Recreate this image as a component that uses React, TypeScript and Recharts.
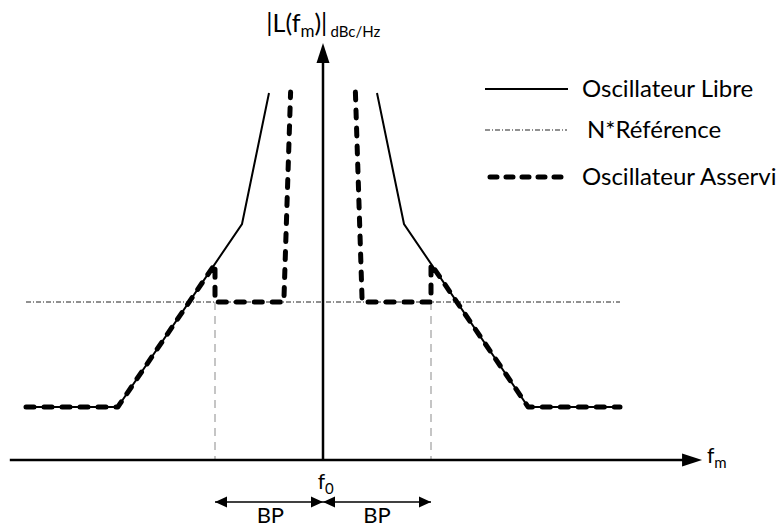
import { ComposedChart, Line, Scatter, XAxis, YAxis } from 'recharts';

// x in offset units from f0 (BP = 4), y in arbitrary noise-level units above the f axis
const freeLeft = [
  { x: -11, y: 5.3 },
  { x: -7.6, y: 5.3 },
  { x: -3, y: 23.6 },
  { x: -2, y: 36.7 },
];
const freeRight = [
  { x: 2, y: 36.7 },
  { x: 3, y: 23.6 },
  { x: 7.6, y: 5.3 },
  { x: 11, y: 5.3 },
];
const lockedLeft = [
  { x: -11, y: 5.3 },
  { x: -7.6, y: 5.3 },
  { x: -4, y: 19.6 },
  { x: -4, y: 15.8 },
  { x: -1.45, y: 15.8 },
  { x: -1.2, y: 36.8 },
];
const lockedRight = [
  { x: 1.2, y: 36.8 },
  { x: 1.45, y: 15.8 },
  { x: 4, y: 15.8 },
  { x: 4, y: 19.6 },
  { x: 7.6, y: 5.3 },
  { x: 11, y: 5.3 },
];
const reference = [
  { x: -11, y: 15.8 },
  { x: 11, y: 15.8 },
];
const bpEdgeLeft = [
  { x: -4, y: 15.8 },
  { x: -4, y: 0 },
];
const bpEdgeRight = [
  { x: 4, y: 15.8 },
  { x: 4, y: 0 },
];
const fAxis = [
  { x: -11.6, y: 0 },
  { x: 13.4, y: 0 },
];
const levelAxis = [
  { x: 0, y: 0 },
  { x: 0, y: 40 },
];
const bpArrows = [
  { x: -4, y: -4.2 },
  { x: 4, y: -4.2 },
];
const axisHeads = [
  { x: 14.04, y: 0, dir: 'right' },
  { x: 0, y: 41.7, dir: 'up' },
];
const bpHeads = [
  { x: -4, y: -4.2, dir: 'left' },
  { x: 0, y: -4.2, dir: 'right' },
  { x: 0, y: -4.2, dir: 'left' },
  { x: 4, y: -4.2, dir: 'right' },
];
const labels = [
  { x: -2.1, y: 42.8, kind: 'title' },
  { x: 14.22, y: -0.3, kind: 'fm' },
  { x: 0.1, y: -2.9, kind: 'f0' },
  { x: -1.95, y: -6.3, kind: 'bp' },
  { x: 2.0, y: -6.3, kind: 'bp' },
];
const legendItems = ['Oscillateur Libre', 'N*Référence', 'Oscillateur Asservi'];

const W = 781;
const H = 527;
const FONT = 'Lato, "Open Sans", sans-serif';
// f0 sits at 323px, 27px per x unit; the f axis sits at 460px, 10px per y unit
const xDomain = [-323 / 27, (W - 323) / 27];
const yDomain = [(460 - H) / 10, 460 / 10];

const makeHead = (len: number, half: number) => (props: any) => {
  const { cx, cy, payload } = props;
  let pts = '';
  if (payload.dir === 'right') pts = `${cx},${cy} ${cx - len},${cy - half} ${cx - len},${cy + half}`;
  if (payload.dir === 'left') pts = `${cx},${cy} ${cx + len},${cy - half} ${cx + len},${cy + half}`;
  if (payload.dir === 'up') pts = `${cx},${cy} ${cx - half},${cy + len} ${cx + half},${cy + len}`;
  return <polygon points={pts} fill="#000" />;
};

const LabelShape = (props: any) => {
  const { cx, cy, payload } = props;
  if (payload.kind === 'title') {
    return (
      <text x={cx} y={cy} fontFamily={FONT} fontSize={25} fill="#000">
        <tspan>|L(f</tspan>
        <tspan fontSize={17} dy={5}>m</tspan>
        <tspan dy={-5}>)|</tspan>
        <tspan fontSize={15} dy={5} dx={3}>dBc/Hz</tspan>
      </text>
    );
  }
  if (payload.kind === 'fm') {
    return (
      <text x={cx} y={cy} fontFamily={FONT} fontSize={21} fill="#000">
        <tspan>f</tspan>
        <tspan fontSize={15} dy={5}>m</tspan>
      </text>
    );
  }
  if (payload.kind === 'f0') {
    return (
      <text x={cx} y={cy} fontFamily={FONT} fontSize={21} fill="#000" textAnchor="middle">
        <tspan>f</tspan>
        <tspan fontSize={15} dy={5}>0</tspan>
      </text>
    );
  }
  return (
    <text x={cx} y={cy} fontFamily={FONT} fontSize={22} fill="#000" textAnchor="middle">
      BP
    </text>
  );
};

function LegendOverlay() {
  const samples = [
    <line x1={0} y1={10} x2={83} y2={10} stroke="#000" strokeWidth={2} />,
    <line x1={0} y1={10} x2={82} y2={10} stroke="#222" strokeWidth={1} strokeDasharray="5 2 1 2" />,
    <line x1={5} y1={10} x2={80} y2={10} stroke="#000" strokeWidth={5} strokeLinecap="round" strokeDasharray="7 9" />,
  ];
  const tops = [79, 120, 167];
  const textLeft = [97, 102, 97];
  return (
    <>
      {legendItems.map((name, i) => (
        <div key={name} style={{ position: 'absolute', left: 485, top: tops[i], height: 20, width: 300 }}>
          <svg width={90} height={20} style={{ position: 'absolute', left: 0, top: 0 }}>
            {samples[i]}
          </svg>
          <span
            style={{
              position: 'absolute',
              left: textLeft[i],
              top: -5,
              fontFamily: FONT,
              fontSize: 24,
              lineHeight: '28px',
              whiteSpace: 'nowrap',
              color: '#000',
            }}
          >
            {name}
          </span>
        </div>
      ))}
    </>
  );
}

const lineProps = { dot: false, activeDot: false, isAnimationActive: false, dataKey: 'y' } as const;

export default function App() {
  return (
    <div style={{ position: 'absolute', left: 0, top: 0, width: W, height: H, background: '#fff', overflow: 'hidden' }}>
      <ComposedChart width={W} height={H} margin={{ top: 0, right: 0, bottom: 0, left: 0 }}>
        <XAxis type="number" dataKey="x" domain={xDomain} allowDataOverflow hide />
        <YAxis type="number" dataKey="y" domain={yDomain} allowDataOverflow hide />
        <Line {...lineProps} data={bpEdgeLeft} stroke="#b3b3b3" strokeWidth={1.5} strokeDasharray="8 6" />
        <Line {...lineProps} data={bpEdgeRight} stroke="#b3b3b3" strokeWidth={1.5} strokeDasharray="8 6" />
        <Line {...lineProps} data={reference} stroke="#222" strokeWidth={1} strokeDasharray="5 2 1 2" />
        <Line {...lineProps} data={fAxis} stroke="#000" strokeWidth={2.5} />
        <Line {...lineProps} data={levelAxis} stroke="#000" strokeWidth={2.5} />
        <Line {...lineProps} data={bpArrows} stroke="#000" strokeWidth={1.5} />
        <Line {...lineProps} data={freeLeft} stroke="#000" strokeWidth={2} />
        <Line {...lineProps} data={freeRight} stroke="#000" strokeWidth={2} />
        <Line {...lineProps} data={lockedLeft} stroke="#000" strokeWidth={5} strokeLinecap="round" strokeLinejoin="round" strokeDasharray="8 10" />
        <Line {...lineProps} data={lockedRight} stroke="#000" strokeWidth={5} strokeLinecap="round" strokeLinejoin="round" strokeDasharray="8 10" />
        <Scatter data={axisHeads} shape={makeHead(20, 6.5)} isAnimationActive={false} />
        <Scatter data={bpHeads} shape={makeHead(12, 5.5)} isAnimationActive={false} />
        <Scatter data={labels} shape={LabelShape} isAnimationActive={false} />
      </ComposedChart>
      <LegendOverlay />
    </div>
  );
}
